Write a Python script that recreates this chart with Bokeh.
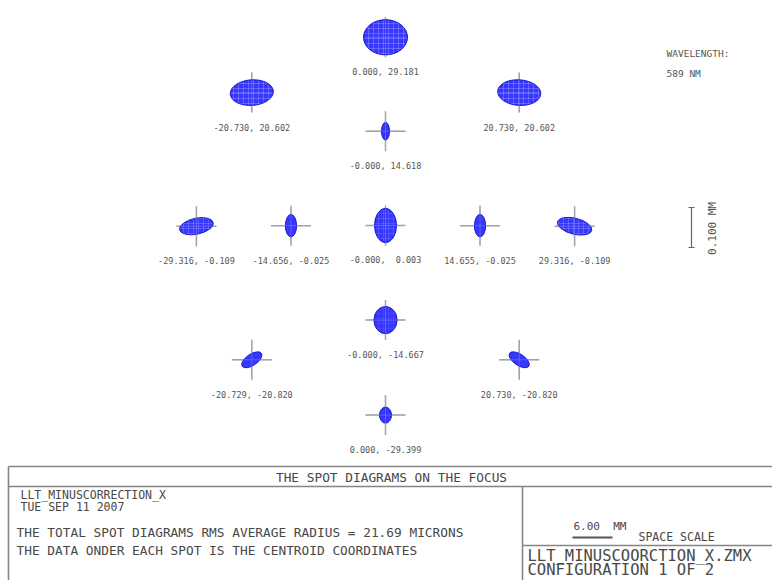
import math
from bokeh.plotting import figure
from bokeh.models import Range1d, ColumnDataSource
from bokeh.core.properties import value
from bokeh.embed import file_html
from bokeh.resources import INLINE

# ---------------- data ----------------
# centroid coordinates (mm) printed under each spot
cent_x = [0.000, -20.730, 20.730, -0.000, -29.316, -14.656, -0.000, 14.655, 29.316, -0.000, -20.729, 20.730, 0.000]
cent_y = [29.181, 20.602, 20.602, 14.618, -0.109, -0.025, 0.003, -0.025, -0.109, -14.667, -20.820, -20.820, -29.399]
# spot size (microns) along its own axes and tilt (degrees)
spot_w_um = [110, 108, 108, 20, 86, 28, 55, 28, 88, 58, 58, 58, 30]
spot_h_um = [88, 64, 64, 44, 40, 56, 86, 56, 40, 68, 28, 28, 40]
spot_angle_deg = [0, 4, -4, 0, 12, 0, 0, 0, -14, 0, 34, -34, 0]
spot_texture = [0.35, 0.35, 0.35, 0.0, 0.3, 0.0, 0.2, 0.0, 0.3, 0.1, 0.0, 0.0, 0.0]

wavelength_nm = 589
scale_bar_mm = 0.100
space_scale_mm = 6.00
rms_radius_um = 21.69
title = "THE SPOT DIAGRAMS ON THE FOCUS"
lens_name = "LLT_MINUSCORRECTION_X"
date_text = "TUE SEP 11 2007"
file_name = "LLT_MINUSCOORCTION_X.ZMX"
config_text = "CONFIGURATION 1 OF 2"

# ---------------- layout helpers (page pixels -> data) ----------------
S = 6.45            # px per mm of field layout
X0, Y0 = 385, 225   # page position of the layout origin
UM_PX = 0.4         # px per micron in the spots
W, H = 772, 580
NB = "\u00a0"


def dx(X):
    return (X - X0) / S


def dy(Y):
    return (Y0 - Y) / S


FONT = value("DejaVu Sans Mono")

p = figure(width=W, height=H, x_range=Range1d(dx(0), dx(W)),
           y_range=Range1d(dy(H), dy(0)), output_backend="svg",
           toolbar_location=None, min_border=0, x_axis_type=None,
           y_axis_type=None)
p.grid.visible = False
p.outline_line_color = None
p.background_fill_color = "white"
p.border_fill_color = "white"

labels = [f"{x:.3f}, {y:6.3f}".replace(" ", NB) for x, y in zip(cent_x, cent_y)]
src = ColumnDataSource(dict(
    x=cent_x, y=cent_y,
    w=[w * UM_PX for w in spot_w_um],
    h=[h * UM_PX for h in spot_h_um],
    ang=[math.radians(a) for a in spot_angle_deg],
    tex=spot_texture,
    ly=[y - 35 / S for y in cent_y],
    lab=labels,
))

# crosshairs
p.scatter("x", "y", source=src, marker="cross", size=40,
          line_color="#9a9a9a", line_width=1.5)
# spots
p.ellipse("x", "y", width="w", height="h", angle="ang", source=src,
          width_units="screen", height_units="screen",
          fill_color="#2626ff", fill_alpha=0.92,
          line_color="#1a1ad0", line_width=1,
          hatch_pattern="cross", hatch_color="white", hatch_alpha="tex",
          hatch_scale=5, hatch_weight=0.6)
# faint crosshair over spots
p.scatter("x", "y", source=src, marker="cross", size=40,
          line_color="#b0b0ff", line_width=0.8, line_alpha=0.5)
# labels
p.text("x", "ly", text="lab", source=src, text_align="center",
       text_baseline="middle", text_font=FONT, text_font_size="8.5px",
       text_color="#555555")

# wavelength
p.text(x=[dx(666)], y=[dy(53)], text=["WAVELENGTH:"], text_font=FONT,
       text_font_size="9.5px", text_baseline="middle", text_color="#555555")
p.text(x=[dx(666)], y=[dy(73)], text=[f"{wavelength_nm}{NB}NM"], text_font=FONT,
       text_font_size="9.5px", text_baseline="middle", text_color="#555555")

# vertical scale bar
bar_px = scale_bar_mm * 1000 * UM_PX
bx, by = 691, 227
p.segment(x0=[dx(bx), dx(bx - 3), dx(bx - 3)],
          y0=[dy(by - bar_px / 2), dy(by - bar_px / 2), dy(by + bar_px / 2)],
          x1=[dx(bx), dx(bx + 3), dx(bx + 3)],
          y1=[dy(by + bar_px / 2), dy(by - bar_px / 2), dy(by + bar_px / 2)],
          line_color="#666666", line_width=1.2)
p.text(x=[dx(712)], y=[dy(228)], text=[f"{scale_bar_mm:.3f}{NB}MM"],
       angle=math.pi / 2, text_font=FONT, text_font_size="11px",
       text_align="center", text_baseline="middle", text_color="#555555")

# bottom panel frame
LC = "#858585"
p.segment(x0=[dx(8), dx(8), dx(8), dx(522), dx(522)],
          y0=[dy(466), dy(486), dy(466), dy(486), dy(545)],
          x1=[dx(W), dx(W), dx(8), dx(522), dx(W)],
          y1=[dy(466), dy(486), dy(H), dy(H), dy(545)],
          line_color=LC, line_width=1.6)

TC = "#484848"
p.text(x=[dx(391)], y=[dy(477)], text=[title], text_font=FONT,
       text_font_size="12.8px", text_align="center", text_baseline="middle",
       text_color=TC)
p.text(x=[dx(20), dx(20)], y=[dy(494), dy(506)], text=[lens_name, date_text],
       text_font=FONT, text_font_size="11.5px", text_baseline="middle",
       text_color=TC)
p.text(x=[dx(16), dx(16)], y=[dy(532), dy(550)],
       text=[f"THE TOTAL SPOT DIAGRAMS RMS AVERAGE RADIUS = {rms_radius_um:.2f} MICRONS",
             "THE DATA ONDER EACH SPOT IS THE CENTROID COORDINATES"],
       text_font=FONT, text_font_size="12.8px", text_baseline="middle",
       text_color=TC)

# space scale
p.text(x=[dx(573)], y=[dy(526)], text=[f"{space_scale_mm:.2f}{NB}{NB}MM"],
       text_font=FONT, text_font_size="11px", text_baseline="middle",
       text_color=TC)
p.segment(x0=[dx(572)], y0=[dy(537)], x1=[dx(612)], y1=[dy(537)],
          line_color="#555555", line_width=2)
p.text(x=[dx(638)], y=[dy(536)], text=[f"SPACE{NB}SCALE"], text_font=FONT,
       text_font_size="11.5px", text_baseline="middle", text_color=TC)

# file / configuration
p.text(x=[dx(527), dx(527)], y=[dy(555), dy(569)], text=[file_name, config_text],
       text_font=FONT, text_font_size="15.5px", text_baseline="middle",
       text_color=TC)

open("out.html", "w").write(file_html(p, INLINE))
